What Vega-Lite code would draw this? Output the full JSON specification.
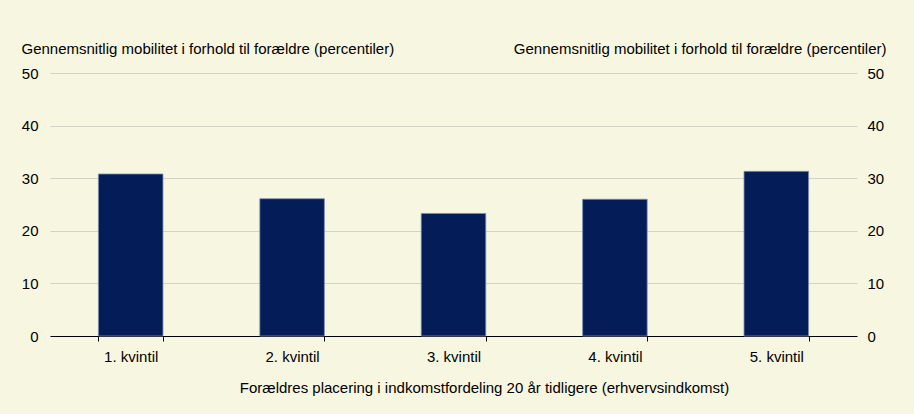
{
  "$schema": "https://vega.github.io/schema/vega-lite/v6.json",
  "autosize": {"type": "none"},
  "width": 807,
  "height": 263,
  "padding": {"left": 50, "top": 73, "right": 57, "bottom": 78},
  "background": "#F7F6E0",
  "config": {
    "view": {"stroke": null},
    "font": "Liberation Sans",
    "axis": {"labelFont": "Liberation Sans", "titleFont": "Liberation Sans", "labelColor": "#000000", "titleColor": "#000000", "labelFontSize": 15, "titleFontSize": 15, "titleFontWeight": "normal"}
  },
  "data": {
    "values": [
      {"kvintil": "1. kvintil", "mobilitet": 30.8},
      {"kvintil": "2. kvintil", "mobilitet": 26.1},
      {"kvintil": "3. kvintil", "mobilitet": 23.3},
      {"kvintil": "4. kvintil", "mobilitet": 26.0},
      {"kvintil": "5. kvintil", "mobilitet": 31.3}
    ]
  },
  "encoding": {
    "x": {
      "field": "kvintil",
      "type": "nominal",
      "sort": null,
      "scale": {"paddingInner": 0.6, "paddingOuter": 0.3},
      "axis": {
        "title": "Forældres placering i indkomstfordeling 20 år tidligere (erhvervsindkomst)",
        "labelAngle": 0,
        "tickBand": "extent",
        "domainColor": "#000000",
        "tickColor": "#000000",
        "tickSize": 5,
        "labelPadding": 8,
        "titleX": 434,
        "titleAlign": "center",
        "titleY": 56,
        "titleBaseline": "alphabetic",
        "grid": false
      }
    }
  },
  "layer": [
    {
      "mark": {"type": "bar", "color": "#041C58", "stroke": "#7F8FB2", "strokeWidth": 0.8},
      "encoding": {
        "y": {
          "field": "mobilitet",
          "type": "quantitative",
          "scale": {"domain": [0, 50]},
          "axis": {
            "orient": "left",
            "values": [0, 10, 20, 30, 40, 50],
            "ticks": false,
            "domain": false,
            "grid": true,
            "gridColor": "#D3D2C8",
            "labelPadding": 12,
            "title": "Gennemsnitlig mobilitet i forhold til forældre (percentiler)",
            "titleAngle": 0,
            "titleAlign": "left",
            "titleBaseline": "alphabetic",
            "titleX": -29,
            "titleY": -20
          }
        }
      }
    },
    {
      "mark": {"type": "bar", "opacity": 0},
      "encoding": {
        "y": {
          "field": "mobilitet",
          "type": "quantitative",
          "scale": {"domain": [0, 50]},
          "axis": {
            "orient": "right",
            "values": [0, 10, 20, 30, 40, 50],
            "ticks": false,
            "domain": false,
            "grid": false,
            "labelPadding": 10,
            "title": "Gennemsnitlig mobilitet i forhold til forældre (percentiler)",
            "titleAngle": 0,
            "titleAlign": "right",
            "titleBaseline": "alphabetic",
            "titleX": 29,
            "titleY": -20
          }
        }
      }
    }
  ],
  "resolve": {"axis": {"y": "independent"}}
}
